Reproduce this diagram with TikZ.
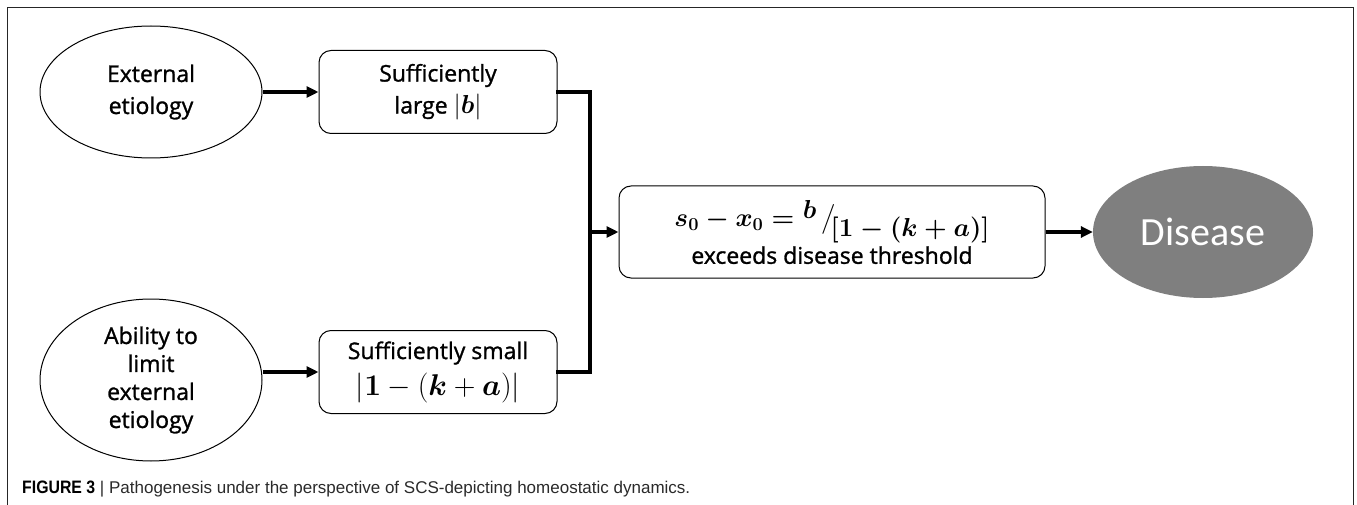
\RequirePackage{fix-cm}
\documentclass[tikz,border=0pt]{standalone}
\usepackage[no-math]{fontspec}
\usepackage{amsmath,bm}
\usetikzlibrary{shapes.geometric,arrows.meta}
\setmainfont{Open Sans}[FakeBold=1.2]
\newfontfamily\capfont{Liberation Sans}
\newfontfamily\disfont{Carlito}
\definecolor{disgray}{HTML}{7F7F7F}
\definecolor{capgray}{HTML}{2A2A2A}
\tikzset{
  oval/.style={ellipse, draw=black, line width=1pt, inner sep=0pt, align=center,
    font=\fontsize{23}{32}\selectfont},
  rbox/.style={rectangle, rounded corners=12pt, draw=black, line width=1pt, inner sep=0pt,
    align=center, font=\fontsize{23}{32}\selectfont},
  conn/.style={line width=3.2pt, line cap=rect},
  arr/.style={line width=3.2pt, -{Triangle[length=12pt,width=11pt]}},
}
\begin{document}
\begin{tikzpicture}[x=1pt,y=-1pt]
\useasboundingbox (0,0) rectangle (1357,505);
\draw[line width=1pt, black!85] (7,505) -- (7,8) -- (1353,8) -- (1353,505);

\node[oval, minimum width=222pt, minimum height=132pt] (e1) at (151,92) {External\\etiology};
\node[rbox, minimum width=238pt, minimum height=83pt] (b1) at (438,92)
  {Sufficiently\\large {\fontsize{26}{32}\selectfont$|\boldsymbol{b}|$}};
\node[oval, minimum width=222pt, minimum height=162pt, font=\fontsize{23}{28}\selectfont] (e2) at (151,380)
  {Ability to\\limit\\external\\etiology};
\node[rbox, minimum width=238pt, minimum height=83pt] (b2) at (438,372)
  {Sufficiently small\\[4pt]{\fontsize{30}{32}\selectfont$|\boldsymbol{1}-(\boldsymbol{k}+\boldsymbol{a})|$}};
\node[rbox, minimum width=426pt, minimum height=92pt] (b3) at (832,232)
  {{\fontsize{26}{32}\selectfont\boldmath$s_0-x_0=\raisebox{0.6ex}{$b$}\,\big/\!\raisebox{-0.75ex}{$[1-(k+a)]$}$}\\[2pt]exceeds disease threshold};
\node[ellipse, fill=disgray, inner sep=0pt, minimum width=220pt, minimum height=132pt,
  text=white, font=\disfont\fontsize{40}{44}\selectfont] (d) at (1203,232) {Disease};

\coordinate (j1) at (590,92);
\coordinate (j2) at (590,372);
\coordinate (jm) at (590,232);

\draw[arr] (e1.east) -- (b1.west);
\draw[arr] (e2.east |- b2.west) -- (b2.west);
\draw[conn] (b1.east) -- (j1) -- (j2) -- (b2.east);
\draw[arr] (jm) -- (b3.west);
\draw[arr] (b3.east) -- (d.west);

\node[anchor=base west, inner sep=0pt, font=\capfont\fontsize{17}{20}\selectfont, text=capgray] (cap) at (22,493)
  {{\bfseries\color{black}\scalebox{0.88}[1]{\fontsize{18}{20}\selectfont FIGURE 3}} | Pathogenesis under the perspective of SCS-depicting homeostatic dynamics.};
\end{tikzpicture}
\end{document}
